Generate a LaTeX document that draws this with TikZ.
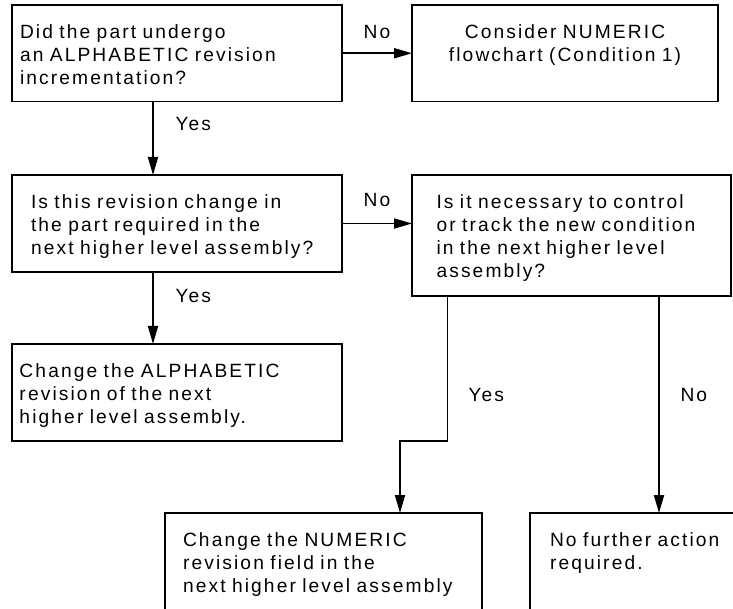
\documentclass[tikz,border=0pt]{standalone}
\usepackage{fontspec}
\newfontfamily\flussfont{Liberation Sans}[LetterSpace=11]
\usetikzlibrary{arrows.meta}

\begin{document}
\begin{tikzpicture}[x=1pt, y=-1pt,
        kasten/.style={draw, line width=1.8pt, anchor=north west,
            outer sep=0pt, inner ysep=0pt, align=left, text height=33.5pt},
        marke/.style={anchor=base west},
        pfeil/.style={->, line width=1.8pt},
        font=\flussfont\fontsize{19.2pt}{23pt}\selectfont,
        >={Triangle[length=18pt,width=10pt]} % Pfeilspitzen
        ]
    \useasboundingbox (0,0) rectangle (733,609);
    \clip (0,0) rectangle (733,609);

    % Kaesten
    \node[kasten, text width=314pt, inner xsep=8pt, text depth=63pt] (frage) at (12,5)
        {Did the part undergo\\an ALPHABETIC revision\\incrementation?};
    \node[kasten, align=center, text width=290pt, inner xsep=8pt, text depth=63pt] (numerisch) at (412,5)
        {Consider NUMERIC\\flowchart (Condition 1)};
    \node[kasten, text width=292pt, inner xsep=19pt, text depth=63.5pt] (teil) at (12,175)
        {Is this revision change in\\the part required in the\\next higher level assembly?};
    \node[kasten, text width=270pt, inner xsep=24.5pt, text depth=87.5pt] (verfolgen) at (412,175)
        {Is it necessary to control\\or track the new condition\\in the next higher level\\assembly?};
    \node[kasten, text width=315pt, inner xsep=7.5pt, text depth=63.5pt] (aendern) at (12,344)
        {Change the ALPHABETIC\\revision of the next\\higher level assembly.};
    \node[kasten, text width=281pt, inner xsep=18pt, text depth=113.5pt] (numfeld) at (165,513)
        {Change the NUMERIC\\revision field in the\\next higher level assembly};
    \node[kasten, text width=230pt, inner xsep=20pt, text depth=113.5pt] (keine) at (530,513)
        {No further action\\required.};

    % Hilfspunkte
    \coordinate (links) at (153,0);
    \coordinate (j1) at (447.5,441);
    \coordinate (j2) at (400,441);
    \coordinate (rechts) at (659,0);

    % Pfeile
    \draw[pfeil] (frage.east) -- (numerisch.west);
    \draw[pfeil] (frage.south -| links) -- (teil.north -| links);
    \draw[pfeil] (teil.east) -- (teil.east -| verfolgen.west);
    \draw[pfeil] (teil.south -| links) -- (aendern.north -| links);
    \draw[pfeil] (verfolgen.south -| j1) -- (j1) -- (j2) -- (numfeld.north -| j2);
    \draw[pfeil] (verfolgen.south -| rechts) -- (keine.north -| rechts);

    % Beschriftung
    \node[anchor=base] (nein1) at (377,39) {No};
    \node[marke] (ja1) at (172,131) {Yes};
    \node[anchor=base] (nein2) at (377,207) {No};
    \node[marke] (ja2) at (172,303) {Yes};
    \node[marke] (ja3) at (465,401) {Yes};
    \node[marke] (nein3) at (677,401) {No};

\end{tikzpicture}
\end{document}
